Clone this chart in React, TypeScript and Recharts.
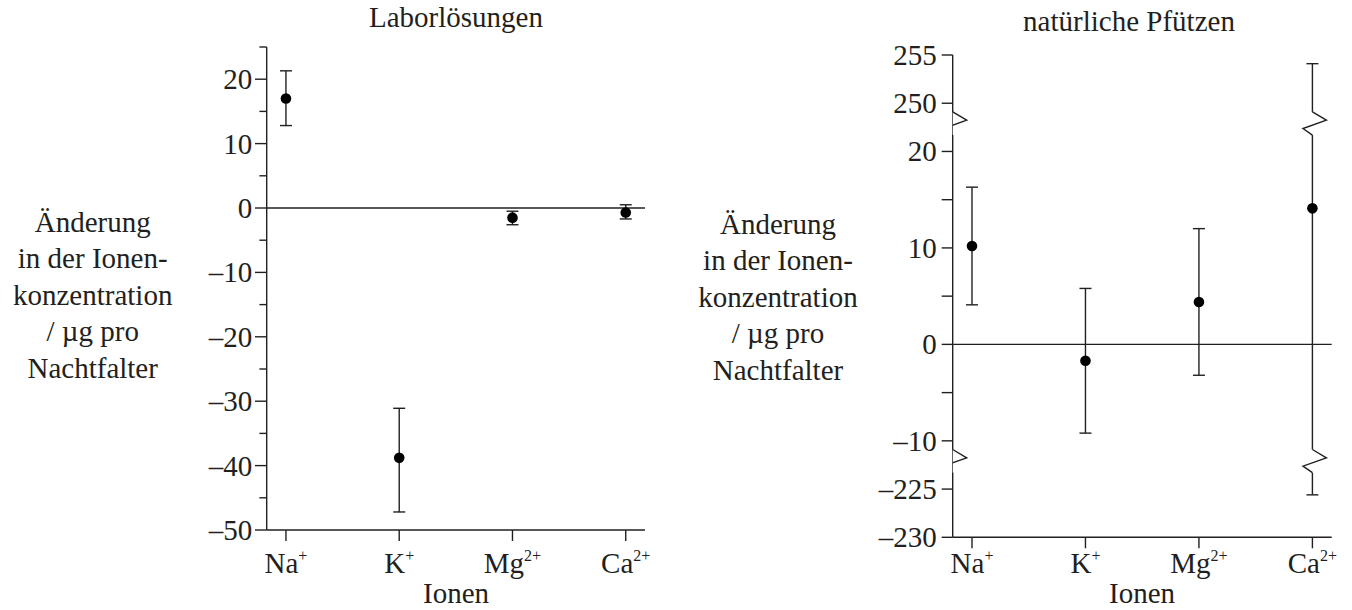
import { ErrorBar, ReferenceLine, Scatter, ScatterChart, XAxis, YAxis } from "recharts";

const IONS = ["Na", "K", "Mg", "Ca"];
const CHARGES = ["+", "+", "2+", "2+"];

// Laborlösungen
const LAB_MEAN = [17.0, -38.8, -1.5, -0.7];
const LAB_LOW = [12.8, -47.2, -2.6, -1.7];
const LAB_HIGH = [21.3, -31.1, -0.5, 0.5];
const LAB_TICKS = [-50, -45, -40, -35, -30, -25, -20, -15, -10, -5, 0, 5, 10, 15, 20, 25];

// natürliche Pfützen (Achse mit Unterbrechungen)
const POOL_MEAN = [10.2, -1.7, 4.4, 14.1];
const POOL_LOW = [4.1, -9.2, -3.2, -225.6];
const POOL_HIGH = [16.3, 5.8, 12.0, 254.1];
const POOL_TICKS = [-230, -225, -10, -5, 0, 5, 10, 15, 20, 250, 255];
const POOL_MAJOR = [-230, -225, -10, 0, 10, 20, 250, 255];

const INK = "#231f20";
const FONT = "Liberation Serif, Tinos, Times New Roman, DejaVu Serif, serif";
const X_DOMAIN: [number, number] = [-0.17, 3.17];
const SW = 1.4;

// Werte jenseits der Unterbrechungen zusammenschieben
const squash = (v: number) => (v > 100 ? v - 225 : v < -100 ? v + 210 : v);
const unsquash = (d: number) => (d > 22 ? d + 225 : d < -12 ? d - 210 : d);
const BREAKS = [22.9, -12.1];

const fmt = (v: number) => (v < 0 ? "\u2013" + Math.abs(v) : String(v));

const labData = IONS.map((_, i) => ({
    x: i,
    y: LAB_MEAN[i],
    err: [LAB_MEAN[i] - LAB_LOW[i], LAB_HIGH[i] - LAB_MEAN[i]],
}));

const poolData = IONS.map((_, i) => {
    const m = squash(POOL_MEAN[i]);
    return { x: i, y: m, err: [m - squash(POOL_LOW[i]), squash(POOL_HIGH[i]) - m] };
});

const caIndex = IONS.indexOf("Ca");
const breakData = BREAKS.flatMap((b) => [
    { x: X_DOMAIN[0], y: b },
    { x: caIndex, y: b },
]);

const txt = { fontFamily: FONT, fontSize: 29, fill: INK };

const ionTick = (dy: number) => (props: any) => {
    const { x, y, payload } = props;
    const i = payload.value;
    return (
        <text x={x} y={y + dy} textAnchor="middle" style={txt}>
            {IONS[i]}
            <tspan dy={-12} style={{ fontSize: 16 }}>{CHARGES[i]}</tspan>
        </text>
    );
};

const LabYTick = (props: any) => {
    const { x, y, payload } = props;
    const v = payload.value;
    const major = v % 10 === 0;
    return (
        <g>
            <line x1={x - (major ? 11.7 : 7.3)} x2={x} y1={y} y2={y} stroke={INK} strokeWidth={SW} />
            {major && (
                <text x={x - 14.5} y={y + 10} textAnchor="end" style={txt}>
                    {fmt(v)}
                </text>
            )}
        </g>
    );
};

const PoolYTick = (props: any) => {
    const { x, y, payload } = props;
    const v = Math.round(unsquash(payload.value));
    const major = POOL_MAJOR.includes(v);
    return (
        <g>
            <line x1={x - 11} x2={x} y1={y} y2={y} stroke={INK} strokeWidth={SW} />
            {major && (
                <text x={x - 16} y={y + 10} textAnchor="end" style={txt}>
                    {fmt(v)}
                </text>
            )}
        </g>
    );
};

const Dot = (props: any) => <circle cx={props.cx} cy={props.cy} r={5.3} fill="#000" />;

const BreakMark = (props: any) => {
    const { cx, cy } = props;
    return (
        <g>
            <rect x={cx - 3} y={cy - 11.6} width={6} height={23.2} fill="#fff" />
            <path
                d={`M${cx},${cy - 11.6} L${cx + 14},${cy - 3.3} L${cx - 9.4},${cy + 5} L${cx},${cy + 11.6}`}
                fill="none"
                stroke={INK}
                strokeWidth={SW}
            />
        </g>
    );
};

const Y_LABEL = ["Änderung", "in der Ionen-", "konzentration", "/ µg pro", "Nachtfalter"];

export default function App() {
    return (
        <div style={{ position: "absolute", left: 0, top: 0, width: 1352, height: 610, background: "#fff" }}>
            <svg width={1352} height={610} style={{ position: "absolute", left: 0, top: 0 }}>
                <g style={txt} textAnchor="middle">
                    <text x={456} y={27}>Laborlösungen</text>
                    <text x={1129} y={31}>natürliche Pfützen</text>
                    {Y_LABEL.map((t, i) => (
                        <text key={"l" + i} x={92.7} y={231.5 + i * 36.6}>{t}</text>
                    ))}
                    {Y_LABEL.map((t, i) => (
                        <text key={"r" + i} x={778} y={233.5 + i * 36.6}>{t}</text>
                    ))}
                    <text x={456} y={603}>Ionen</text>
                    <text x={1142} y={603}>Ionen</text>
                </g>
            </svg>

            {/* Laborlösungen */}
            <div style={{ position: "absolute", left: 0, top: 0 }}>
                <ScatterChart width={700} height={610} margin={{ top: 47, right: 55, bottom: 40, left: 206.7 }}>
                    <XAxis
                        type="number"
                        dataKey="x"
                        domain={X_DOMAIN}
                        ticks={[0, 1, 2, 3]}
                        interval={0}
                        allowDataOverflow
                        height={40}
                        tickSize={11}
                        tickLine={{ stroke: INK, strokeWidth: SW }}
                        axisLine={{ stroke: INK, strokeWidth: SW }}
                        tick={ionTick(30)}
                    />
                    <YAxis
                        type="number"
                        dataKey="y"
                        domain={[-50, 25]}
                        ticks={LAB_TICKS}
                        interval={0}
                        allowDataOverflow
                        width={60}
                        tickSize={0}
                        tickMargin={0}
                        tickLine={false}
                        axisLine={{ stroke: INK, strokeWidth: SW }}
                        tick={LabYTick}
                    />
                    <ReferenceLine y={0} stroke={INK} strokeWidth={SW} />
                    <Scatter data={labData} dataKey="y" shape={Dot} isAnimationActive={false}>
                        <ErrorBar dataKey="err" direction="y" width={6} stroke={INK} strokeWidth={SW} isAnimationActive={false} />
                    </Scatter>
                </ScatterChart>
            </div>

            {/* natürliche Pfützen */}
            <div style={{ position: "absolute", left: 700, top: 0 }}>
                <ScatterChart width={652} height={610} margin={{ top: 55, right: 20.3, bottom: 32.7, left: 192.7 }}>
                    <XAxis
                        type="number"
                        dataKey="x"
                        domain={X_DOMAIN}
                        ticks={[0, 1, 2, 3]}
                        interval={0}
                        allowDataOverflow
                        height={40}
                        tickSize={11}
                        tickLine={{ stroke: INK, strokeWidth: SW }}
                        axisLine={{ stroke: INK, strokeWidth: SW }}
                        tick={ionTick(22.7)}
                    />
                    <YAxis
                        type="number"
                        dataKey="y"
                        domain={[squash(-230), squash(255)]}
                        ticks={POOL_TICKS.map(squash)}
                        interval={0}
                        allowDataOverflow
                        width={60}
                        tickSize={0}
                        tickMargin={0}
                        tickLine={false}
                        axisLine={{ stroke: INK, strokeWidth: SW }}
                        tick={PoolYTick}
                    />
                    <ReferenceLine y={0} stroke={INK} strokeWidth={SW} />
                    <Scatter data={poolData} dataKey="y" shape={Dot} isAnimationActive={false}>
                        <ErrorBar dataKey="err" direction="y" width={6} stroke={INK} strokeWidth={SW} isAnimationActive={false} />
                    </Scatter>
                    <Scatter data={breakData} dataKey="y" shape={BreakMark} isAnimationActive={false} />
                </ScatterChart>
            </div>
        </div>
    );
}
